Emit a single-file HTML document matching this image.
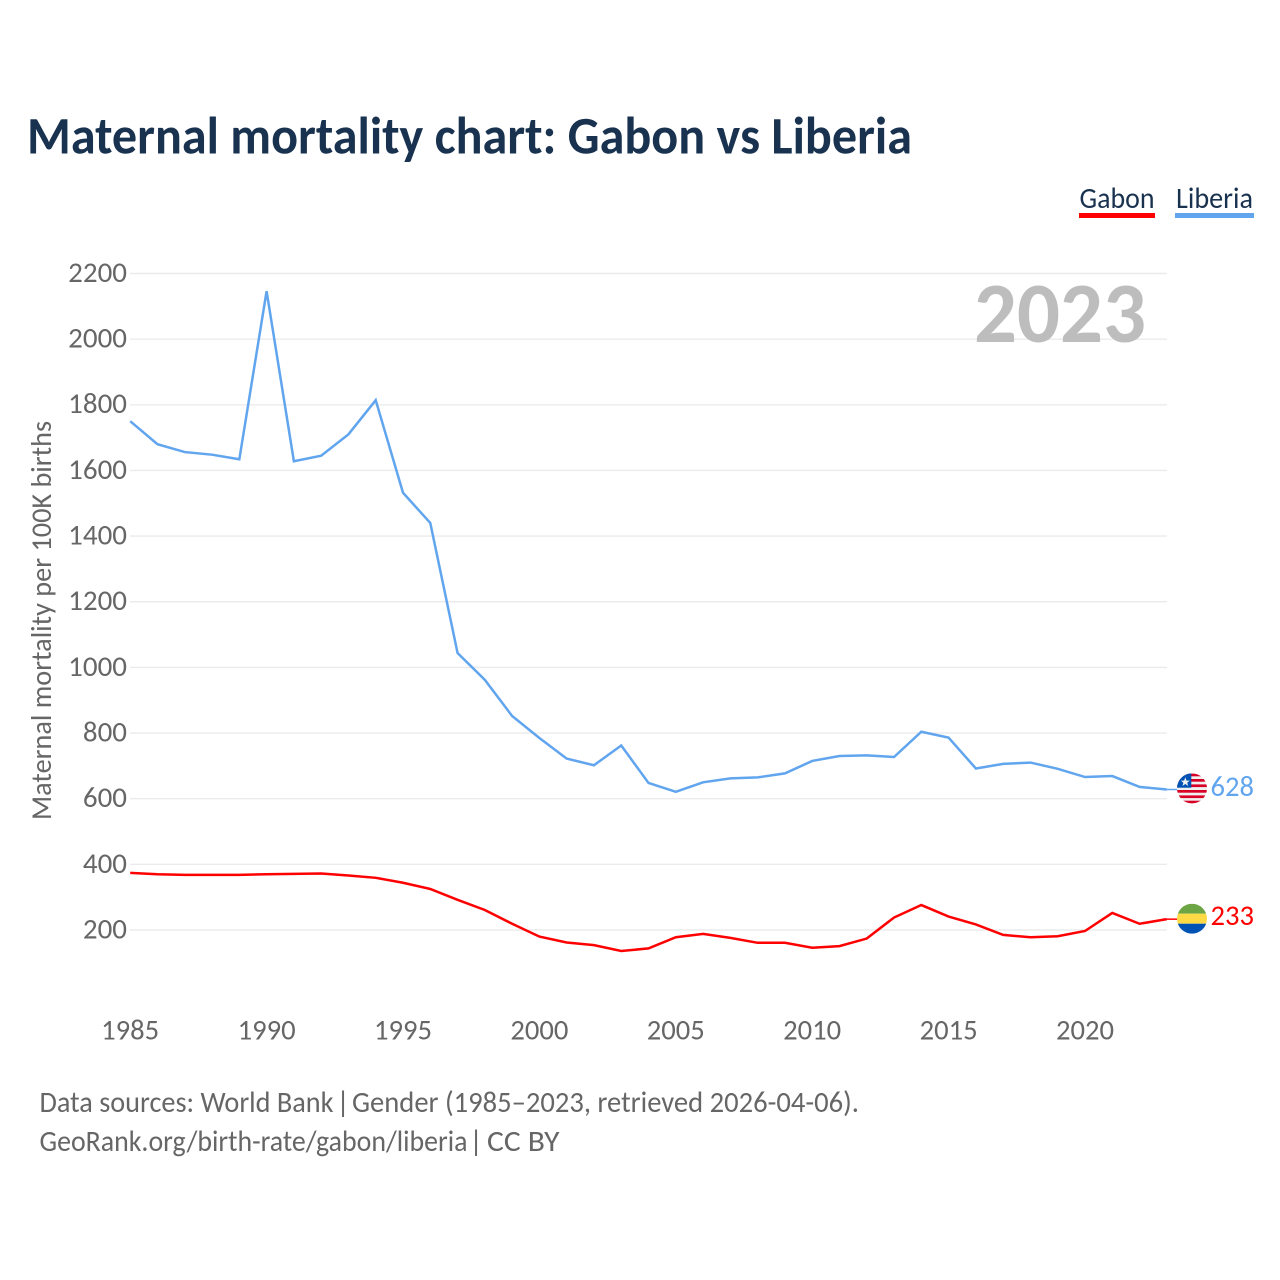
<!DOCTYPE html>
<html lang="en">
<head>
<meta charset="utf-8">
<title>Maternal mortality chart: Gabon vs Liberia</title>
<style>
html,body{margin:0;padding:0;background:#fff;}
svg{display:block;font-family:"Carlito","Lato","Liberation Sans",sans-serif;}
</style>
</head>
<body>
<svg id="chart" xmlns="http://www.w3.org/2000/svg" width="1280" height="1280" viewBox="0 0 1280 1280">
  <rect x="0" y="0" width="1280" height="1280" fill="#fff"/>
  <defs>
    <clipPath id="liberia-clip"><circle cx="1192" cy="788.4" r="15"/></clipPath>
    <clipPath id="gabon-clip"><circle cx="1192" cy="918.7" r="15"/></clipPath>
  </defs>
  <text x="27" y="153.3" font-size="52.5" font-weight="700" fill="#19324f" textLength="885" lengthAdjust="spacingAndGlyphs">Maternal mortality chart: Gabon vs Liberia</text>

  <g>
    <text x="1079.5" y="208" font-size="29.5" fill="#19324f" textLength="75" lengthAdjust="spacingAndGlyphs">Gabon</text>
    <rect x="1079" y="213" width="76" height="5" fill="#ff0000"/>
  </g>
  <g>
    <text x="1176" y="208" font-size="29.5" fill="#19324f" textLength="77" lengthAdjust="spacingAndGlyphs">Liberia</text>
    <rect x="1175" y="213" width="79" height="5" fill="#60a5ee"/>
  </g>

  <g id="grid"></g>
  <g id="y-ticks"></g>
  <g id="x-ticks"></g>

  <text x="1146" y="342" text-anchor="end" font-size="86" font-weight="700" fill="#bdbdbd" textLength="172" lengthAdjust="spacingAndGlyphs">2023</text>

  <text transform="translate(51 620.5) rotate(-90)" text-anchor="middle" font-size="28.5" fill="#666" textLength="399" lengthAdjust="spacingAndGlyphs">Maternal mortality per 100K births</text>

  <g id="series"></g>

  <g clip-path="url(#liberia-clip)">
    <rect x="1177" y="773.4" width="30" height="30" fill="#f0f0f0"/>
    <rect x="1177" y="773.6" width="30" height="2.7" fill="#d80027"/>
    <rect x="1177" y="779" width="30" height="2.7" fill="#d80027"/>
    <rect x="1177" y="784.4" width="30" height="2.7" fill="#d80027"/>
    <rect x="1177" y="790" width="30" height="2.7" fill="#d80027"/>
    <rect x="1177" y="795.4" width="30" height="2.7" fill="#d80027"/>
    <rect x="1177" y="800.7" width="30" height="2.7" fill="#d80027"/>
    <rect x="1177" y="773.4" width="14.3" height="14.3" fill="#0052b4"/>
    <polygon points="1185.3,777.2 1186.5,780.6 1189.8,780.6 1187.2,782.7 1188.2,786 1185.3,784 1182.4,786 1183.4,782.7 1180.8,780.6 1184.1,780.6" fill="#f0f0f0"/>
  </g>
  <g clip-path="url(#gabon-clip)">
    <rect x="1177" y="903.7" width="30" height="10" fill="#6da544"/>
    <rect x="1177" y="913.7" width="30" height="10" fill="#ffda44"/>
    <rect x="1177" y="923.7" width="30" height="10" fill="#0052b4"/>
  </g>

  <g id="end-labels"></g>

  <g>
    <text x="39.5" y="1112" font-size="29.5" fill="#666" textLength="294" lengthAdjust="spacingAndGlyphs">Data sources: World Bank</text>
    <text x="343" y="1112" text-anchor="middle" font-size="29.5" fill="#666">|</text>
    <text x="352" y="1112" font-size="29.5" fill="#666" textLength="507" lengthAdjust="spacingAndGlyphs">Gender (1985–2023, retrieved 2026-04-06).</text>
  </g>
  <g>
    <text x="39.5" y="1151" font-size="29.5" fill="#666" textLength="428" lengthAdjust="spacingAndGlyphs">GeoRank.org/birth-rate/gabon/liberia</text>
    <text x="476" y="1151" text-anchor="middle" font-size="29.5" fill="#666">|</text>
    <text x="487" y="1151" font-size="29.5" fill="#666" textLength="72.5" lengthAdjust="spacingAndGlyphs">CC BY</text>
  </g>
</svg>
<script>
const years = [1985,1986,1987,1988,1989,1990,1991,1992,1993,1994,1995,1996,1997,1998,1999,2000,2001,2002,2003,2004,2005,2006,2007,2008,2009,2010,2011,2012,2013,2014,2015,2016,2017,2018,2019,2020,2021,2022,2023];
const liberiaValues = [1750,1680,1656,1648,1634,2146,1628,1645,1710,1814,1532,1440,1044,962,852,785,722,702,762,648,621,650,662,665,677,715,730,732,727,804,786,692,706,710,691,666,669,636,628];
const gabonValues = [374,370,368,368,368,370,371,372,366,359,344,325,292,261,219,180,162,154,136,144,178,188,176,161,161,146,151,174,238,276,241,217,185,178,181,197,252,219,233];
const yTickValues = [200,400,600,800,1000,1200,1400,1600,1800,2000,2200];
const xTickValues = [1985,1990,1995,2000,2005,2010,2015,2020];

const NS = 'http://www.w3.org/2000/svg';
function xScale(year) { return 130.2 + (year - 1985) * 27.28; }
function yScale(v) { return 930 - (v - 200) * 0.32825; }
function make(tag, attrs, parent) {
  const node = document.createElementNS(NS, tag);
  for (const k in attrs) node.setAttribute(k, attrs[k]);
  parent.appendChild(node);
  return node;
}

const gridGroup = document.getElementById('grid');
const yGroup = document.getElementById('y-ticks');
yTickValues.forEach(function (v) {
  const line = make('line', {x1: 130, x2: 1167, y1: yScale(v), y2: yScale(v), stroke: '#ebebeb', 'stroke-width': 1.4}, gridGroup);
  
  
  const label = make('text', {x: 127, y: yScale(v) + 8.4, 'text-anchor': 'end', 'font-size': 28.5, fill: '#666', textLength: String(v).length * 14.7, lengthAdjust: 'spacingAndGlyphs'}, yGroup);
  
  
  label.textContent = v;
});

const xGroup = document.getElementById('x-ticks');
xTickValues.forEach(function (yr) {
  const label = make('text', {x: xScale(yr), y: 1039.4, 'text-anchor': 'middle', 'font-size': 28.5, fill: '#666', textLength: 58, lengthAdjust: 'spacingAndGlyphs'}, xGroup);
  
  
  label.textContent = yr;
});

function pointsFor(values) {
  return values.map(function (v, i) { return xScale(years[i]).toFixed(2) + ',' + yScale(v).toFixed(2); }).join(' ');
}

const seriesGroup = document.getElementById('series');
const labelGroup = document.getElementById('end-labels');

const liberiaLine = make('polyline', {points: pointsFor(liberiaValues), fill: 'none', stroke: '#60a5ee', 'stroke-width': 2.5, 'stroke-linejoin': 'miter'}, seriesGroup);



const gabonLine = make('polyline', {points: pointsFor(gabonValues), fill: 'none', stroke: '#ff0000', 'stroke-width': 2.5, 'stroke-linejoin': 'miter'}, seriesGroup);



const lastLiberia = liberiaValues[liberiaValues.length - 1];
const lastGabon = gabonValues[gabonValues.length - 1];
const xEnd = xScale(years[years.length - 1]);

const liberiaTail = make('line', {x1: xEnd, x2: 1177, y1: yScale(lastLiberia), y2: yScale(lastLiberia), stroke: '#60a5ee', 'stroke-width': 1.5}, seriesGroup);



const gabonTail = make('line', {x1: xEnd, x2: 1177, y1: yScale(lastGabon), y2: yScale(lastGabon), stroke: '#ff0000', 'stroke-width': 1.5}, seriesGroup);



const liberiaLabel = make('text', {x: 1254, y: 796, 'text-anchor': 'end', 'font-size': 28.5, fill: '#60a5ee', textLength: 43.5, lengthAdjust: 'spacingAndGlyphs'}, labelGroup);


liberiaLabel.textContent = lastLiberia;

const gabonLabel = make('text', {x: 1254, y: 925, 'text-anchor': 'end', 'font-size': 28.5, fill: '#ff0000', textLength: 43.5, lengthAdjust: 'spacingAndGlyphs'}, labelGroup);


gabonLabel.textContent = lastGabon;
</script>
</body>
</html>
